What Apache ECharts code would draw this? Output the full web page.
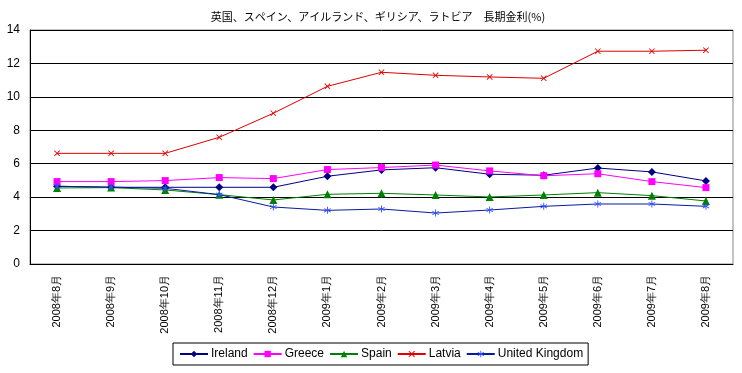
<!DOCTYPE html>
<html><head><meta charset="utf-8">
<script src="https://cdn.jsdelivr.net/npm/echarts@6/dist/echarts.min.js"></script>
<style>html,body{margin:0;padding:0;background:#fff}#c{width:742px;height:373px}</style>
</head><body><div id="c"></div>
<script>
const categories = ['2008年8月','2008年9月','2008年10月','2008年11月','2008年12月','2009年1月','2009年2月','2009年3月','2009年4月','2009年5月','2009年6月','2009年7月','2009年8月'];
const ireland = [4.65, 4.59, 4.59, 4.59, 4.59, 5.25, 5.63, 5.76, 5.37, 5.31, 5.74, 5.51, 4.97];
const greece  = [4.93, 4.93, 4.99, 5.17, 5.11, 5.65, 5.77, 5.92, 5.57, 5.28, 5.40, 4.93, 4.57];
const spain   = [4.55, 4.57, 4.43, 4.15, 3.83, 4.17, 4.23, 4.13, 4.01, 4.13, 4.27, 4.09, 3.77];
const latvia  = [6.62, 6.62, 6.62, 7.58, 9.02, 10.63, 11.47, 11.29, 11.19, 11.11, 12.73, 12.73, 12.79];
const uk      = [4.65, 4.60, 4.53, 4.15, 3.41, 3.21, 3.29, 3.05, 3.23, 3.45, 3.59, 3.59, 3.45];
const yTicks = [0, 2, 4, 6, 8, 10, 12, 14];
const titleText = '英国、スペイン、アイルランド、ギリシア、ラトビア　長期金利(%)';

const xPath = 'path://M0,1L1,0L5,4L9,0L10,1L6,5L10,9L9,10L5,6L1,10L0,9L4,5Z';
const starPath = 'path://M4.4,0H5.6V3.9L9,2L9.6,3L6.2,5L9.6,7L9,8L5.6,6.1V10H4.4V6.1L1,8L0.4,7L3.8,5L0.4,3L1,2L4.4,3.9Z';
const font = '"Liberation Sans", Arial, sans-serif';

function mk(name, data, lineColor, markColor, symbol, size) {
  return {
    name, type: 'line', data, symbol, symbolSize: size,
    lineStyle: { color: lineColor, width: 1 },
    itemStyle: { color: markColor, borderColor: markColor, borderWidth: 0 },
    emphasis: { disabled: true }, animation: false
  };
}

const chart = echarts.init(document.getElementById('c'), null, { renderer: 'canvas' });
chart.setOption({
  animation: false,
  backgroundColor: '#fff',
  title: { text: titleText, left: 373, top: 6, textAlign: 'center',
    textStyle: { fontFamily: '"Noto Sans CJK JP", sans-serif', fontSize: 11, fontWeight: 'normal', color: '#000' } },
  grid: { left: 30, right: 9, top: 30, bottom: 109, show: true, borderColor: '#888', borderWidth: 1 },
  legend: {
    left: 173, top: 343,
    borderColor: '#000', borderWidth: 1, padding: [5, 5, 5, 6],
    itemWidth: 28, itemHeight: 8, itemGap: 5,
    textStyle: { fontFamily: font, fontSize: 12, color: '#000', padding: [0, 0, 0, -2] },
    data: ['Ireland', 'Greece', 'Spain', 'Latvia', 'United Kingdom']
  },
  xAxis: {
    type: 'category', data: categories, boundaryGap: true,
    axisLine: { lineStyle: { color: '#000', width: 1 } },
    axisTick: { inside: true, length: 4, lineStyle: { color: '#000' } },
    axisLabel: { rotate: 90, margin: 11, fontFamily: font, fontSize: 11, color: '#000' },
    splitLine: { show: false }
  },
  yAxis: {
    type: 'value', min: 0, max: 14, interval: 2,
    axisLine: { show: true, lineStyle: { color: '#000', width: 1 } },
    axisTick: { show: false },
    axisLabel: { margin: 10, fontFamily: font, fontSize: 12, color: '#000',
      formatter: v => yTicks.includes(v) ? String(v) : '' },
    splitLine: { lineStyle: { color: '#000', width: 1 } }
  },
  series: [
    mk('Ireland', ireland, '#000080', '#000080', 'diamond', 8),
    mk('Greece', greece, '#ff00ff', '#ff00ff', 'rect', 7),
    mk('Spain', spain, '#008000', '#008000', 'triangle', 8),
    mk('Latvia', latvia, '#e00000', '#e00000', xPath, 6),
    mk('United Kingdom', uk, '#0a1aa0', '#3050ff', starPath, 7)
  ]
});
</script></body></html>
